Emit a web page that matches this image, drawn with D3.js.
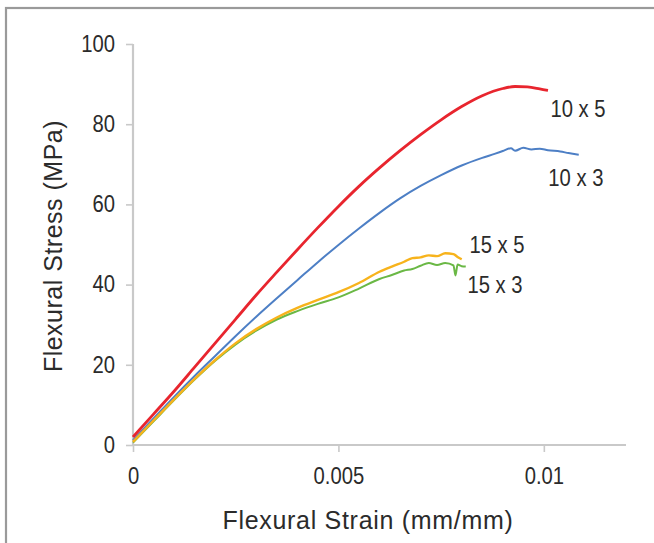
<!DOCTYPE html>
<html>
<head>
<meta charset="utf-8">
<script src="https://cdnjs.cloudflare.com/ajax/libs/d3/7.8.5/d3.min.js"></script>
<style>
  body { margin: 0; background: #fff; }
  text { font-family: "Liberation Sans", Arial, sans-serif; fill: #2b2b2b; }
</style>
</head>
<body>
<div class="chart"></div>
<script>
// strain (mm/mm) / stress (MPa)
var strain10x5 = [0, 0.0005, 0.001, 0.0015, 0.002, 0.0025, 0.003, 0.0035, 0.004, 0.0045, 0.005, 0.0055, 0.006, 0.0065, 0.007, 0.0075, 0.008, 0.0085, 0.009, 0.0093, 0.0096, 0.0099, 0.0101];
var stress10x5 = [2.0, 7.7, 13.4, 19.4, 25.4, 31.4, 37.4, 43.1, 48.7, 54.2, 59.5, 64.5, 69.1, 73.4, 77.4, 81.1, 84.4, 87.1, 88.9, 89.4, 89.3, 88.8, 88.4];

var strain10x3 = [0, 0.0005, 0.001, 0.0015, 0.002, 0.0025, 0.003, 0.0035, 0.004, 0.0045, 0.005, 0.0055, 0.006, 0.0065, 0.007, 0.0075, 0.008, 0.0085, 0.0088, 0.009, 0.0092, 0.0093, 0.0095, 0.0097, 0.0099, 0.0101, 0.0104, 0.0106, 0.01085];
var stress10x3 = [1.2, 6.6, 12.0, 17.2, 22.2, 27.2, 32.0, 36.6, 41.1, 45.6, 49.9, 54.0, 57.9, 61.5, 64.6, 67.3, 69.7, 71.6, 72.6, 73.3, 74.0, 73.4, 74.1, 73.7, 73.9, 73.5, 73.2, 72.8, 72.4];

var strain15x5 = [0, 0.0005, 0.001, 0.0015, 0.002, 0.0025, 0.003, 0.0035, 0.004, 0.0045, 0.005, 0.0055, 0.006, 0.0063, 0.0066, 0.0068, 0.007, 0.0072, 0.0074, 0.0076, 0.0078, 0.0079, 0.008];
var stress15x5 = [0.8, 6.1, 11.4, 16.5, 21.2, 25.4, 28.9, 31.8, 34.2, 36.2, 38.1, 40.4, 43.2, 44.5, 45.7, 46.6, 46.8, 47.3, 47.1, 47.8, 47.6, 46.9, 46.3];

var strain15x3 = [0, 0.0005, 0.001, 0.0015, 0.002, 0.0025, 0.003, 0.0035, 0.004, 0.0045, 0.005, 0.0055, 0.006, 0.0063, 0.0066, 0.0068, 0.007, 0.0072, 0.0074, 0.0076, 0.0078, 0.00785, 0.0079, 0.008, 0.0081];
var stress15x3 = [0.6, 5.9, 11.2, 16.3, 21.0, 25.1, 28.5, 31.3, 33.4, 35.2, 36.8, 39.0, 41.4, 42.4, 43.5, 43.9, 44.7, 45.4, 44.9, 45.4, 44.8, 42.3, 45.0, 44.6, 44.5];

var xTicks = [0, 0.005, 0.01];
var xTickLabels = ["0", "0.005", "0.01"];
var yTicks = [0, 20, 40, 60, 80, 100];

var seriesNames = ["10 x 5", "10 x 3", "15 x 5", "15 x 3"];
var seriesColors = ["#e8252e", "#4d7fc5", "#f7b31c", "#6ab845"];
var seriesWidths = [2.8, 2, 2.4, 2];
var seriesStrain = [strain10x5, strain10x3, strain15x5, strain15x3];
var seriesStress = [stress10x5, stress10x3, stress15x5, stress15x3];
// label anchor in data units (left edge, baseline)
var labelStrain = [0.01016, 0.01011, 0.00819, 0.00814];
var labelStress = [81.8, 64.6, 47.9, 37.8];

var width = 654, height = 543;
var squeeze = 0.88; // narrow the digits a bit, the original uses a condensed face

var svg = d3.select(".chart").append("svg")
    .attr("width", width)
    .attr("height", height);

// frame
svg.append("rect")
    .attr("x", 6).attr("y", 8)
    .attr("width", 700).attr("height", 600)
    .attr("fill", "none")
    .attr("stroke", "#9a9a9a")
    .attr("stroke-width", 2.2);

var x = d3.scaleLinear().domain([0, 0.012]).range([133, 626]);
var y = d3.scaleLinear().domain([0, 100]).range([445, 44]);

var xAxis = svg.append("g")
    .attr("transform", "translate(0,445)")
    .call(d3.axisBottom(x).tickValues(xTicks).tickSize(7).tickPadding(16)
      .tickFormat(function(d, i) { return xTickLabels[i]; }));

var yAxis = svg.append("g")
    .attr("transform", "translate(133,0)")
    .call(d3.axisLeft(y).tickValues(yTicks).tickSize(7).tickPadding(11));

[xAxis, yAxis].forEach(function(a) {
  a.select(".domain").attr("stroke", "#c9c9c9").attr("stroke-width", 2.2);
  a.selectAll(".tick line").attr("stroke", "#c9c9c9").attr("stroke-width", 1.6);
  a.selectAll(".tick text")
      .style("font-family", "'Liberation Sans', Arial, sans-serif")
      .style("font-size", "23px")
      .attr("fill", "#2b2b2b")
      .attr("transform", "scale(" + squeeze + ",1)");
});
xAxis.select(".domain").attr("d", "M133,0H626");
yAxis.select(".domain").attr("d", "M0,445V44");
yAxis.selectAll(".tick text").attr("x", -18 / squeeze);

var line = d3.line()
    .x(function(d) { return x(d[0]); })
    .y(function(d) { return y(d[1]); })
    .curve(d3.curveMonotoneX);

[1, 0, 3, 2].forEach(function(i) {
  var pts = seriesStrain[i].map(function(s, j) { return [s, seriesStress[i][j]]; });
  svg.append("path")
      .datum(pts)
      .attr("d", line)
      .attr("fill", "none")
      .attr("stroke", seriesColors[i])
      .attr("stroke-width", seriesWidths[i])
      .attr("stroke-linejoin", "round");
});

svg.selectAll(".slabel")
    .data(seriesNames)
    .enter().append("text")
      .attr("class", "slabel")
      .attr("transform", function(d, i) {
        return "translate(" + x(labelStrain[i]) + "," + y(labelStress[i]) + ") scale(" + squeeze + ",1)";
      })
      .style("font-size", "23px")
      .text(function(d) { return d; });

svg.append("text")
    .attr("x", 368).attr("y", 529)
    .attr("text-anchor", "middle")
    .style("font-size", "25px")
    .style("letter-spacing", "0.7px")
    .text("Flexural Strain (mm/mm)");

svg.append("text")
    .attr("transform", "translate(62,246) rotate(-90)")
    .attr("text-anchor", "middle")
    .style("font-size", "25px")
    .style("letter-spacing", "0.5px")
    .text("Flexural Stress (MPa)");
</script>
</body>
</html>
